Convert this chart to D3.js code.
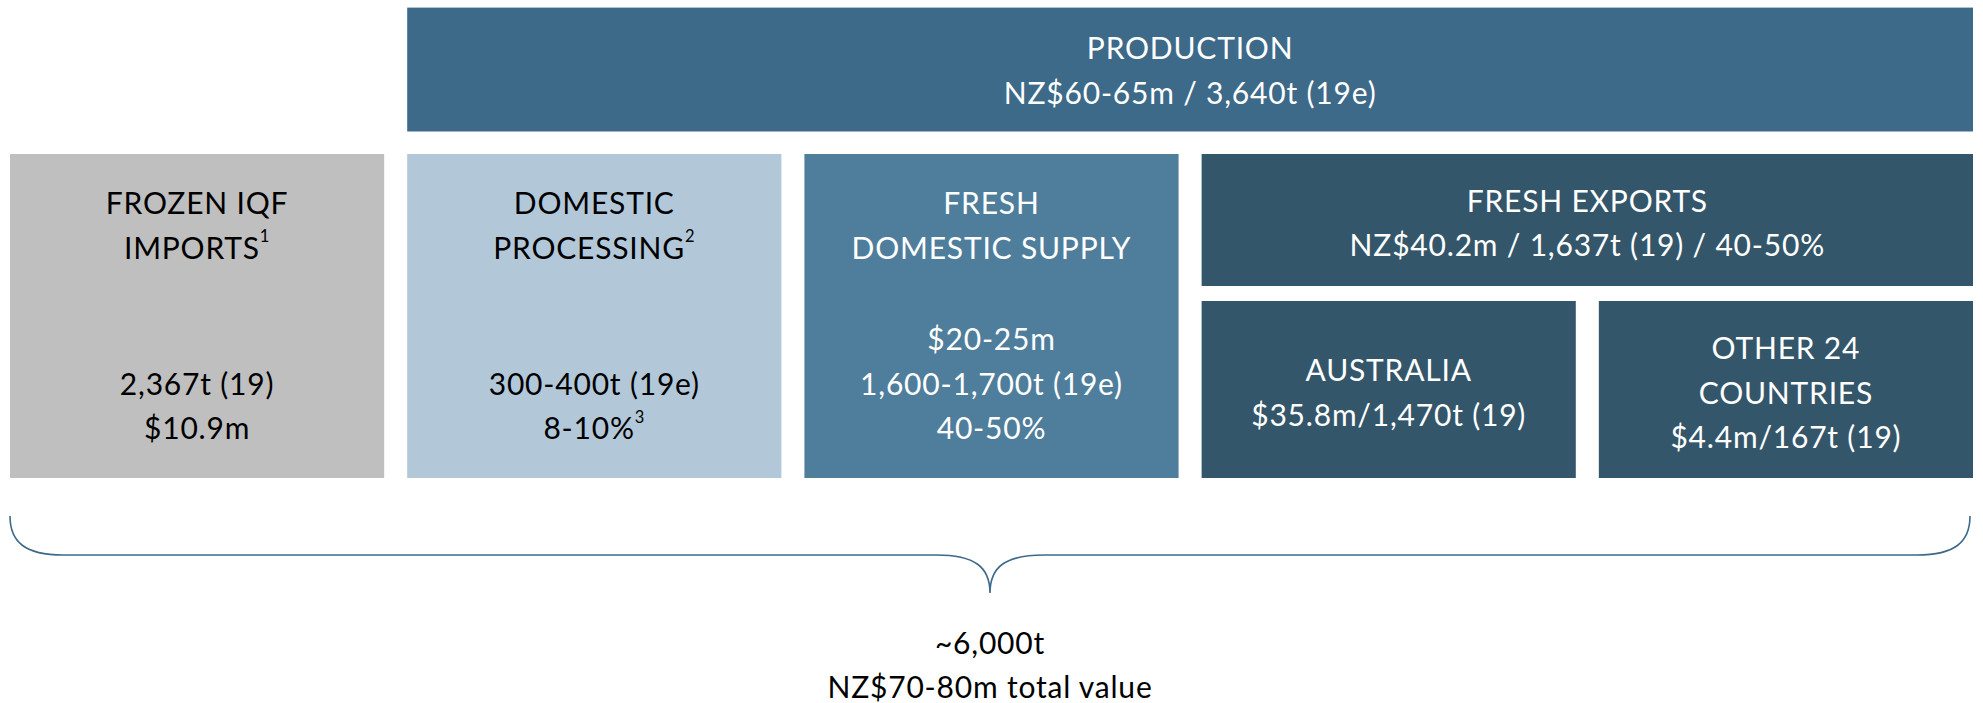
<!DOCTYPE html>
<html>
<head>
<meta charset="utf-8">
<script src="https://cdn.jsdelivr.net/npm/d3@7"></script>
<style>
  body { margin: 0; background: #fff; }
  svg { display: block; font-family: Lato, "Noto Sans", sans-serif; }
</style>
</head>
<body>
<svg id="chart"></svg>
<script>
// columns of the bottom row, left to right
const columns = ['frozen', 'processing', 'fresh', 'australia', 'other'];

// box ids, the column span they cover and their text ("^" marks a superscript)
const boxIds = ['production', 'frozen', 'processing', 'fresh', 'exports', 'australia', 'other'];
const boxSpans = [['processing', 'other'], ['frozen', 'frozen'], ['processing', 'processing'],
                  ['fresh', 'fresh'], ['australia', 'other'], ['australia', 'australia'], ['other', 'other']];
const boxTitles = [
  ['PRODUCTION', 'NZ$60-65m / 3,640t (19e)'],
  ['FROZEN IQF', 'IMPORTS^1'],
  ['DOMESTIC', 'PROCESSING^2'],
  ['FRESH', 'DOMESTIC SUPPLY'],
  ['FRESH EXPORTS', 'NZ$40.2m / 1,637t (19) / 40-50%'],
  ['AUSTRALIA', '$35.8m/1,470t (19)'],
  ['OTHER 24', 'COUNTRIES', '$4.4m/167t (19)']
];
const boxDetails = [
  [],
  ['2,367t (19)', '$10.9m'],
  ['300-400t (19e)', '8-10%^3'],
  ['$20-25m', '1,600-1,700t (19e)', '40-50%'],
  [], [], []
];
const totalLines = ['~6,000t', 'NZ$70-80m total value'];

const palette = {
  production: '#3d6a89', frozen: '#bfbfbf', processing: '#b2c8d9',
  fresh: '#4f7e9c', exports: '#34566a', australia: '#34566a', other: '#34566a'
};
const darkText = { frozen: true, processing: true };

const W = 1983, H = 703;
const fontSize = 30, lineH = 44.5;

const svg = d3.select('#chart').attr('width', W).attr('height', H);

const x = d3.scaleBand()
  .domain(columns)
  .range([10, 1973])
  .paddingInner(0.058);

// vertical bands: production strip, main row, and the split of the export column
const rows = {
  production: [7.6, 131.5],
  main: [154, 478],
  exports: [154, 286],
  sub: [301, 478]
};
const rowOf = { production: 'production', frozen: 'main', processing: 'main', fresh: 'main',
                exports: 'exports', australia: 'sub', other: 'sub' };

const boxes = boxIds.map((id, i) => {
  const [a, b] = boxSpans[i];
  const r = rows[rowOf[id]];
  return {
    id,
    x0: x(a), x1: x(b) + x.bandwidth(),
    y0: r[0], y1: r[1],
    titles: boxTitles[i], details: boxDetails[i]
  };
});

const g = svg.append('g');

const box = g.selectAll('g.box')
  .data(boxes)
  .join('g')
  .attr('class', 'box');

box.append('rect')
  .attr('x', d => d.x0)
  .attr('y', d => d.y0)
  .attr('width', d => d.x1 - d.x0)
  .attr('height', d => d.y1 - d.y0)
  .attr('fill', d => palette[d.id]);

// write one line, turning "^n" into a superscript
function writeLine(sel, str, cx, cy, color) {
  const t = sel.append('text')
    .attr('x', cx)
    .attr('y', cy)
    .attr('text-anchor', 'middle')
    .attr('dominant-baseline', 'central')
    .attr('font-size', fontSize)
    .attr('letter-spacing', 0.8)
    .attr('fill', color);
  const parts = str.split('^');
  t.append('tspan').text(parts[0]);
  if (parts.length > 1) {
    t.append('tspan')
      .attr('font-size', fontSize * 0.55)
      .attr('dy', -fontSize * 0.35)
      .text(parts[1]);
  }
}

box.each(function (d) {
  const sel = d3.select(this);
  const cx = (d.x0 + d.x1) / 2;
  const color = darkText[d.id] ? '#000' : '#fff';
  if (d.details.length) {
    // title at the top, figures at the bottom
    d.titles.forEach((s, k) => writeLine(sel, s, cx, d.y0 + 48 + k * lineH, color));
    const n = d.details.length;
    d.details.forEach((s, k) => writeLine(sel, s, cx, d.y1 - 51 - (n - 1 - k) * lineH, color));
  } else {
    const n = d.titles.length;
    const mid = (d.y0 + d.y1) / 2 + (d.id === 'production' ? 0 : 2);
    d.titles.forEach((s, k) => writeLine(sel, s, cx, mid + (k - (n - 1) / 2) * lineH, color));
  }
});

// curly brace under the whole row
const bx0 = x.range()[0], bx1 = x.range()[1] - 3;
const bm = (bx0 + bx1) / 2;
const by0 = 516, by1 = 555, by2 = 593;
const brace = d3.path();
brace.moveTo(bx0, by0);
brace.bezierCurveTo(bx0, by0 + 26, bx0 + 15, by1, bx0 + 53, by1);
brace.lineTo(bm - 54, by1);
brace.bezierCurveTo(bm - 15, by1, bm, by1 + 12, bm, by2);
brace.bezierCurveTo(bm, by1 + 12, bm + 15, by1, bm + 54, by1);
brace.lineTo(bx1 - 53, by1);
brace.bezierCurveTo(bx1 - 15, by1, bx1, by0 + 26, bx1, by0);

svg.append('path')
  .attr('d', brace.toString())
  .attr('fill', 'none')
  .attr('stroke', '#3d6a89')
  .attr('stroke-width', 1.6);

totalLines.forEach((s, k) => writeLine(svg, s, bm, 642 + k * 44, '#000'));
</script>
</body>
</html>
